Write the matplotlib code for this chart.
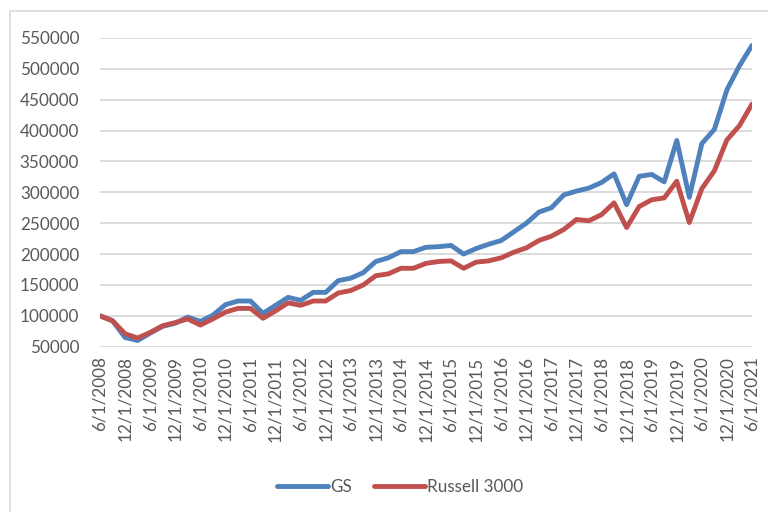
import matplotlib
matplotlib.use("Agg")
import matplotlib.pyplot as plt
from matplotlib.patches import Rectangle

dates = [
    "6/1/2008", "9/1/2008", "12/1/2008", "3/1/2009", "6/1/2009", "9/1/2009", "12/1/2009", "3/1/2010",
    "6/1/2010", "9/1/2010", "12/1/2010", "3/1/2011", "6/1/2011", "9/1/2011", "12/1/2011", "3/1/2012",
    "6/1/2012", "9/1/2012", "12/1/2012", "3/1/2013", "6/1/2013", "9/1/2013", "12/1/2013", "3/1/2014",
    "6/1/2014", "9/1/2014", "12/1/2014", "3/1/2015", "6/1/2015", "9/1/2015", "12/1/2015", "3/1/2016",
    "6/1/2016", "9/1/2016", "12/1/2016", "3/1/2017", "6/1/2017", "9/1/2017", "12/1/2017", "3/1/2018",
    "6/1/2018", "9/1/2018", "12/1/2018", "3/1/2019", "6/1/2019", "9/1/2019", "12/1/2019", "3/1/2020",
    "6/1/2020", "9/1/2020", "12/1/2020", "3/1/2021", "6/1/2021",
]

gs = [
    100000, 92000, 65000, 60000, 72000, 83000, 88000, 98000,
    91000, 101000, 118000, 124000, 124000, 104000, 117000, 130000,
    125000, 138000, 138000, 157000, 161000, 170000, 188000, 194000,
    204000, 204000, 211000, 212000, 214000, 200000, 209000, 216000,
    222000, 236000, 250000, 268000, 275000, 296000, 302000, 307000,
    316000, 330000, 280000, 326000, 329000, 317000, 384000, 292000,
    379000, 402000, 466000, 505000, 538000,
]

russell = [
    100000, 92000, 71000, 64000, 73000, 84000, 89000, 95000,
    85000, 95000, 106000, 112000, 112000, 96000, 108000, 121000,
    117000, 124000, 124000, 137000, 141000, 150000, 165000, 168000,
    177000, 177000, 185000, 188000, 189000, 177000, 187000, 189000,
    194000, 203000, 210000, 222000, 229000, 240000, 256000, 254000,
    264000, 283000, 243000, 277000, 288000, 291000, 318000, 251000,
    306000, 335000, 385000, 408000, 443000,
]

series_names = ["GS", "Russell 3000"]
y_ticks = [50000, 100000, 150000, 200000, 250000, 300000, 350000, 400000, 450000, 500000, 550000]

plt.rcParams['font.family'] = ['Lato', 'DejaVu Sans']
txt = '#595959'

fig = plt.figure(figsize=(7.68, 5.12), dpi=100)
fig.patches.append(Rectangle((10/768, -0.1), 1.2, 1 - 11/512 + 0.1, transform=fig.transFigure,
                             fill=False, edgecolor='#d9d9d9', linewidth=1.2))

ax = fig.add_axes([100/768, 1 - 346.7/512, (752 - 100)/768, (346.7 - 38)/512])
x = list(range(len(dates)))
ax.plot(x, gs, color='#4F81BD', lw=3.5, label=series_names[0], solid_capstyle='round', solid_joinstyle='round')
ax.plot(x, russell, color='#C0504D', lw=3.5, label=series_names[1], solid_capstyle='round', solid_joinstyle='round')

ax.set_xlim(0, len(dates) - 1)
ax.set_ylim(50000, 550000)
ax.set_yticks(y_ticks)
ax.set_yticklabels([str(v) for v in y_ticks])
ax.set_xticks(x[::2])
ax.set_xticklabels(dates[::2], rotation=90)
ax.tick_params(axis='both', length=0, labelsize=12.3, colors=txt)
ax.tick_params(axis='y', pad=15)
ax.tick_params(axis='x', pad=7)
ax.grid(axis='y', color='#d9d9d9', lw=1.3)
ax.set_axisbelow(True)
for s in ax.spines.values():
    s.set_visible(False)

leg = fig.legend(loc='center', bbox_to_anchor=(400/768, 1 - 487/512), ncol=2, frameon=False,
                 fontsize=12.3, handlelength=3.0, handletextpad=0.1, columnspacing=1.3)
for t in leg.get_texts():
    t.set_color(txt)

fig.savefig("out.png", dpi=100)
